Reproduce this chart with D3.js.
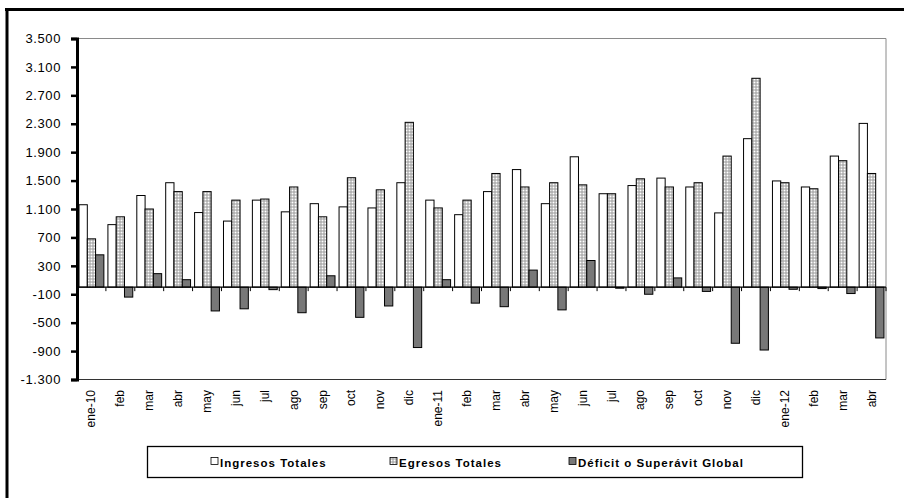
<!DOCTYPE html>
<html>
<head>
<meta charset="utf-8">
<script src="https://cdn.jsdelivr.net/npm/d3@7"></script>
<style>
  html, body { margin: 0; padding: 0; background: #fff; }
  svg { display: block; }
</style>
</head>
<body>
<svg id="chart" width="904" height="498"></svg>
<script>
// ---- data ----
const months = ["ene-10","feb","mar","abr","may","jun","jul","ago","sep","oct","nov","dic",
                "ene-11","feb","mar","abr","may","jun","jul","ago","sep","oct","nov","dic",
                "ene-12","feb","mar","abr"];
const ingresos = [1160, 880, 1290, 1470, 1050, 930, 1225, 1060, 1175, 1130, 1115, 1470,
                  1225, 1020, 1345, 1655, 1175, 1835, 1315, 1430, 1535, 1410, 1045, 2090,
                  1495, 1410, 1845, 2305];
const egresos = [680, 990, 1100, 1345, 1345, 1225, 1240, 1410, 990, 1540, 1370, 2320,
                 1115, 1225, 1600, 1410, 1470, 1440, 1315, 1525, 1410, 1470, 1845, 2940,
                 1470, 1385, 1780, 1600];
const deficit = [455, -140, 190, 105, -335, -305, -35, -360, 160, -425, -265, -850,
                 105, -225, -275, 240, -320, 375, -15, -100, 130, -60, -790, -885,
                 -30, -20, -90, -715];
const seriesNames = ["Ingresos Totales", "Egresos Totales", "Déficit o Superávit Global"];
const yTicks = [3500, 3100, 2700, 2300, 1900, 1500, 1100, 700, 300, -100, -500, -900, -1300];

(function () {
// ---- layout ----
const svg = d3.select("#chart");
const pLeft = 77, pRight = 886, pTop = 38.5, pBottom = 379.5;

const defs = svg.append("defs");
const pat = defs.append("pattern").attr("id", "dots")
  .attr("width", 3).attr("height", 3).attr("patternUnits", "userSpaceOnUse");
pat.append("rect").attr("width", 3).attr("height", 3).attr("fill", "#9a9a9a");
pat.append("rect").attr("x", 0.5).attr("y", 0.5).attr("width", 2).attr("height", 2).attr("fill", "#ffffff");

const fills = ["#ffffff", "url(#dots)", "#787878"];

// outer frame
svg.append("line").attr("x1", 5).attr("x2", 904).attr("y1", 9.5).attr("y2", 9.5)
  .attr("stroke", "#000").attr("stroke-width", 3);
svg.append("line").attr("x1", 7).attr("x2", 7).attr("y1", 8).attr("y2", 498)
  .attr("stroke", "#000").attr("stroke-width", 3);

const idx = d3.range(months.length);
const x0 = d3.scaleBand().domain(idx).range([pLeft, pRight]).paddingInner(0.14).paddingOuter(0.07);
const x1 = d3.scaleBand().domain([0, 1, 2]).range([0, x0.bandwidth()]);
const y = d3.scaleLinear().domain([-1300, 3500]).range([pBottom, pTop]);

const loc = d3.formatLocale({decimal: ",", thousands: ".", grouping: [3], currency: ["", ""], minus: "-"});
const fmt = loc.format(",");

// plot area border
svg.append("line").attr("x1", pLeft).attr("x2", pRight).attr("y1", pTop).attr("y2", pTop)
  .attr("stroke", "#8a8a8a").attr("stroke-width", 1);
svg.append("line").attr("x1", pRight).attr("x2", pRight).attr("y1", pTop).attr("y2", pBottom)
  .attr("stroke", "#8a8a8a").attr("stroke-width", 1);
svg.append("line").attr("x1", pLeft).attr("x2", pRight).attr("y1", pBottom).attr("y2", pBottom)
  .attr("stroke", "#333").attr("stroke-width", 1);

// bars
const series = [ingresos, egresos, deficit];
const g = svg.append("g");
idx.forEach(i => {
  series.forEach((arr, s) => {
    const v = arr[i];
    g.append("rect")
      .attr("x", x0(i) + x1(s))
      .attr("y", y(Math.max(0, v)))
      .attr("width", x1.bandwidth())
      .attr("height", Math.abs(y(v) - y(0)))
      .attr("fill", fills[s])
      .attr("stroke", "#000")
      .attr("stroke-width", 1);
  });
});

// x axis at zero
const xAxisG = svg.append("g");
xAxisG.append("line").attr("x1", pLeft).attr("x2", pRight).attr("y1", y(0)).attr("y2", y(0))
  .attr("stroke", "#000").attr("stroke-width", 1.2);
const step = x0.step();
d3.range(months.length + 1).forEach(k => {
  const xx = pLeft + k * step;
  xAxisG.append("line").attr("x1", xx).attr("x2", xx).attr("y1", y(0)).attr("y2", y(0) + 4)
    .attr("stroke", "#000").attr("stroke-width", 1);
});

// category labels
svg.append("g").selectAll("text").data(idx).join("text")
  .attr("transform", i => `translate(${x0(i) + x0.bandwidth() / 2 + 4},390) rotate(-90)`)
  .attr("text-anchor", "end")
  .attr("font-family", "Liberation Sans, Arial, sans-serif")
  .attr("font-size", 12)
  .attr("fill", "#000")
  .text(i => months[i]);

// y axis
const yAxis = d3.axisLeft(y).tickValues(yTicks).tickFormat(fmt).tickSize(6).tickPadding(10);
const yG = svg.append("g").attr("transform", `translate(${pLeft},0)`).call(yAxis);
yG.select(".domain").attr("stroke", "#000").attr("stroke-width", 3);
yG.selectAll(".tick line").attr("stroke", "#000").attr("stroke-width", 2.5);
yG.selectAll(".tick text")
  .attr("font-family", "Liberation Sans, Arial, sans-serif")
  .attr("font-size", 13)
  .attr("letter-spacing", 0.6)
  .attr("fill", "#000");

// legend
const leg = svg.append("g");
leg.append("rect").attr("x", 147.5).attr("y", 446.5).attr("width", 655).attr("height", 31)
  .attr("fill", "#fff").attr("stroke", "#000").attr("stroke-width", 1.3);
const legX = [211, 390, 569];
seriesNames.forEach((name, s) => {
  leg.append("rect").attr("x", legX[s]).attr("y", 457.5).attr("width", 7).attr("height", 7)
    .attr("fill", fills[s]).attr("stroke", "#000").attr("stroke-width", 0.8);
  leg.append("text").attr("x", legX[s] + 9).attr("y", 467)
    .attr("font-family", "Liberation Sans, Arial, sans-serif")
    .attr("font-size", 11.5).attr("font-weight", "bold")
    .attr("letter-spacing", 1)
    .attr("fill", "#000")
    .text(name);
});
})();
</script>
</body>
</html>
